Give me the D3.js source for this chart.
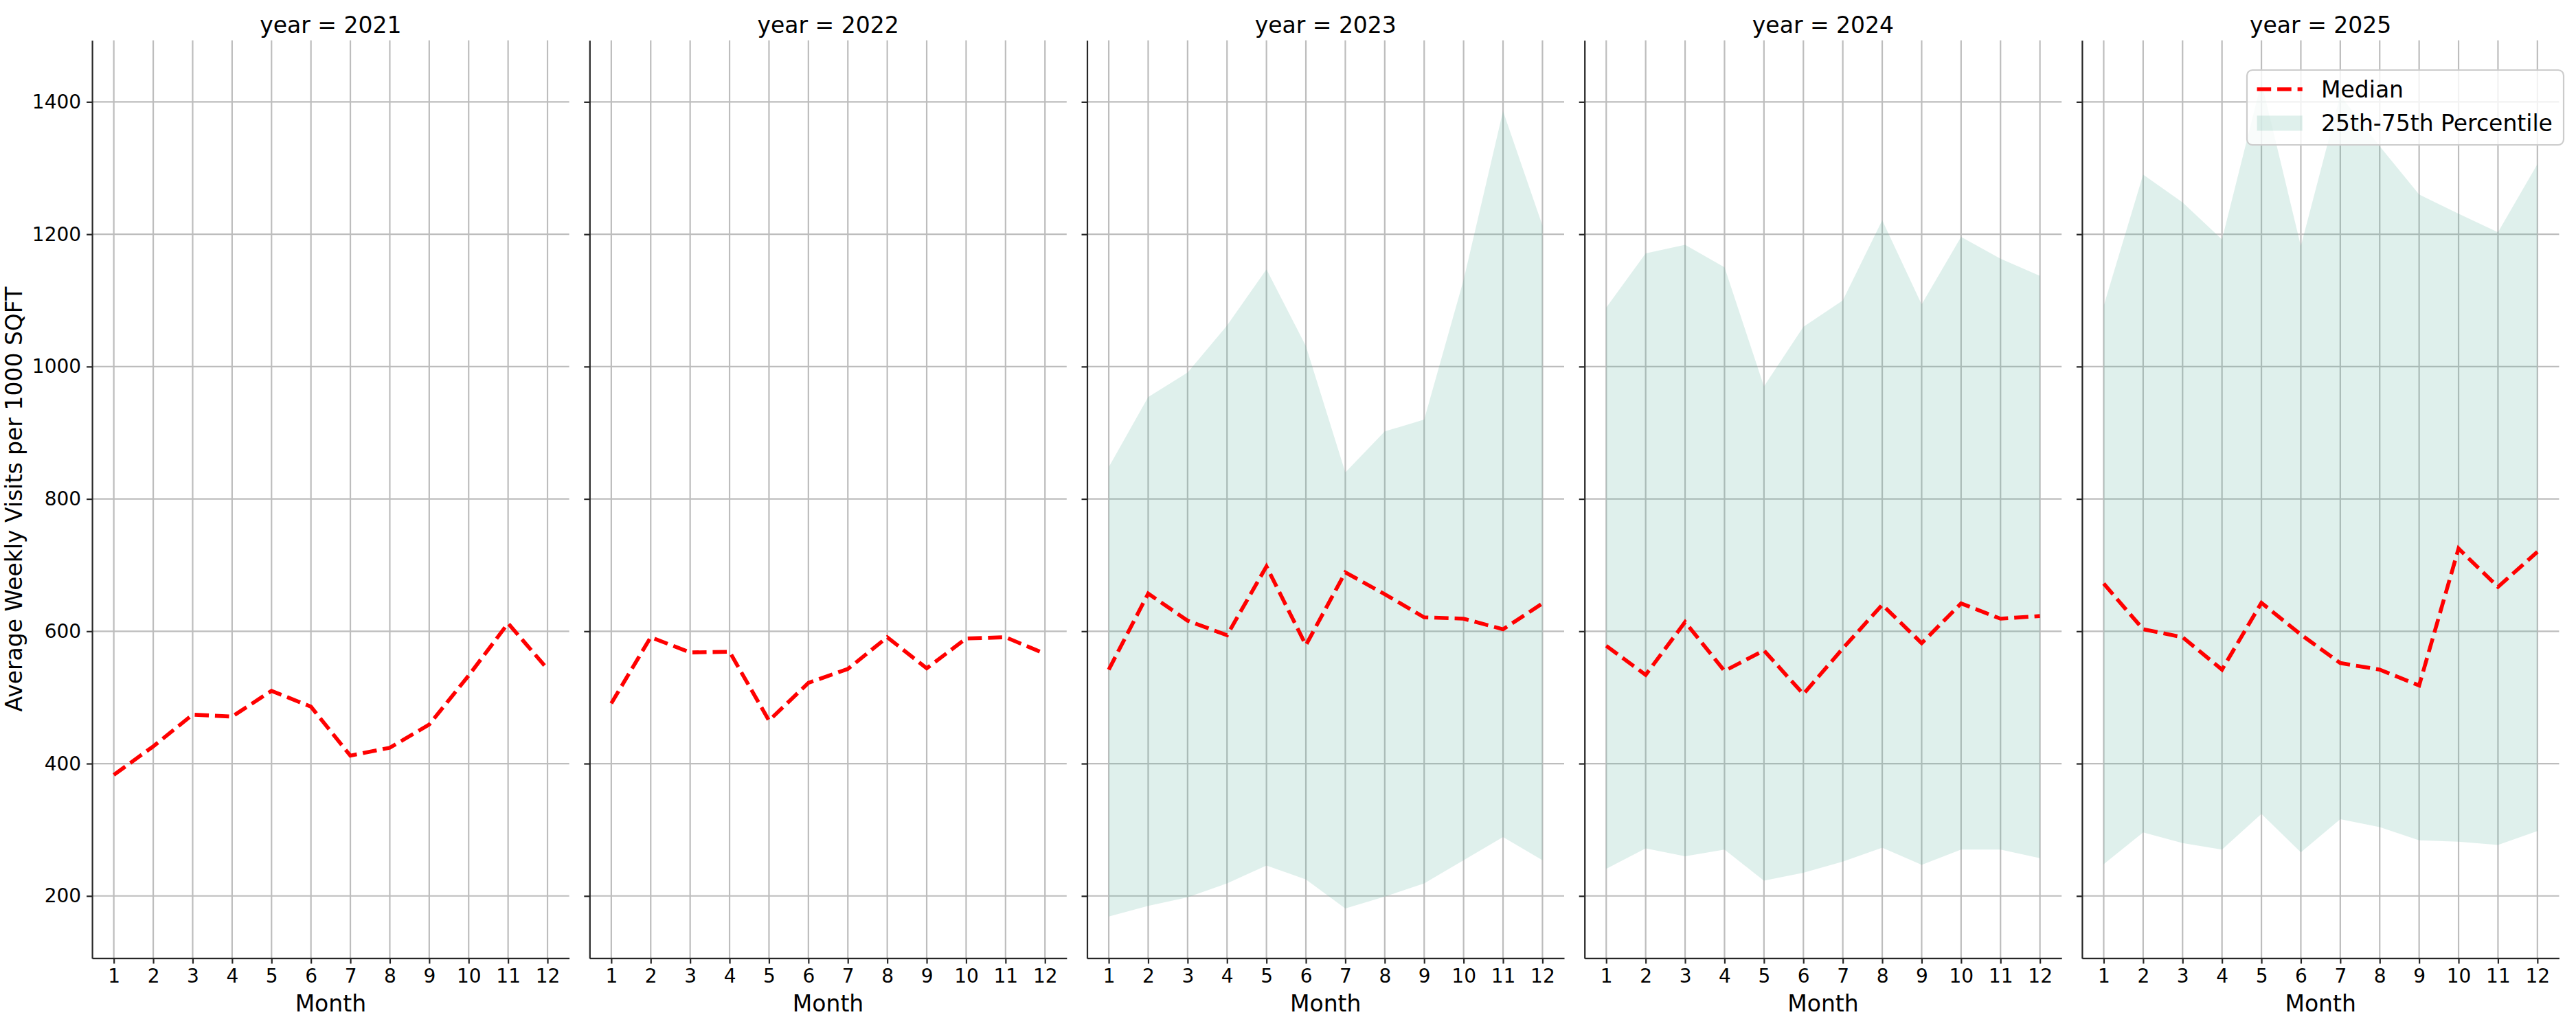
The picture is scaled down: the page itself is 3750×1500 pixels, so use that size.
<!DOCTYPE html>
<html>
<head>
<meta charset="utf-8">
<script src="https://cdn.jsdelivr.net/npm/d3@7"></script>
<style>
    body { margin: 0; background: #fff; }
    svg text { font-family: 'DejaVu Sans', sans-serif; fill: #000; }
</style>
</head>
<body>
<div id="chart"></div>
<script>
const years = [2021, 2022, 2023, 2024, 2025];
const months = [1, 2, 3, 4, 5, 6, 7, 8, 9, 10, 11, 12];
const yTicks = [200, 400, 600, 800, 1000, 1200, 1400];

// median per month
const median2021 = [383, 426, 474, 471, 510, 486, 412, 424, 459, 533, 612, 543];
const median2022 = [491, 591, 568, 569, 465, 522, 543, 591, 544, 589, 591, 566];
const median2023 = [542, 657, 616, 594, 698, 579, 689, 656, 621, 619, 603, 642];
const median2024 = [578, 534, 614, 540, 571, 505, 574, 640, 582, 642, 619, 623];
const median2025 = [672, 603, 591, 542, 643, 595, 552, 542, 518, 725, 667, 720];

// 25th / 75th percentile (no band for 2021 and 2022)
const lower2023 = [169, 185, 198, 219, 246, 225, 181, 199, 219, 254, 289, 254];
const upper2023 = [848, 954, 991, 1062, 1147, 1031, 840, 902, 920, 1131, 1386, 1213];
const lower2024 = [241, 272, 260, 270, 223, 235, 252, 273, 247, 270, 270, 257];
const upper2024 = [1089, 1171, 1184, 1150, 970, 1060, 1100, 1221, 1094, 1196, 1163, 1137];
const lower2025 = [248, 296, 280, 270, 324, 266, 316, 304, 284, 282, 277, 298];
const upper2025 = [1092, 1290, 1248, 1192, 1430, 1182, 1410, 1333, 1260, 1231, 1203, 1306];

const medians = [median2021, median2022, median2023, median2024, median2025];
const lowers = [null, null, lower2023, lower2024, lower2025];
const uppers = [null, null, upper2023, upper2024, upper2025];

document.addEventListener('DOMContentLoaded', () => {
    const W = 3750, H = 1500;
    const top = 58.7, bottom = 1395.4;
    const panelLeft = 134.1, panelW = 694.5, panelStep = 724.2;
    const bandColor = 'rgb(95,180,160)';
    const gridColor = '#bdbdbd';
    const spineColor = '#262626';
    const dash = '20.6,8.9';

    const svg = d3.select('#chart').append('svg')
        .attr('width', W)
        .attr('height', H);

    // shared y scale, padded 5% like matplotlib autoscale
    const allVals = [].concat(...medians, ...lowers.filter(d => d), ...uppers.filter(d => d));
    const vMin = d3.min(allVals), vMax = d3.max(allVals);
    const pad = (vMax - vMin) * 0.05;
    const y = d3.scaleLinear().domain([vMin - pad, vMax + pad]).range([bottom, top]);

    years.forEach((year, i) => {
        const x = d3.scaleLinear().domain([0.45, 12.55]).range([0, panelW]);
        const g = svg.append('g').attr('transform', `translate(${panelLeft + i * panelStep},0)`);

        // grid
        g.append('g').selectAll('line.h')
            .data(yTicks)
            .enter().append('line')
            .attr('x1', 0).attr('x2', panelW)
            .attr('y1', d => y(d)).attr('y2', d => y(d))
            .attr('stroke', gridColor).attr('stroke-width', 2.2);
        g.append('g').selectAll('line.v')
            .data(months)
            .enter().append('line')
            .attr('x1', d => x(d)).attr('x2', d => x(d))
            .attr('y1', top).attr('y2', bottom)
            .attr('stroke', gridColor).attr('stroke-width', 2.2);

        // percentile band
        if (lowers[i]) {
            const area = d3.area()
                .x((d, j) => x(months[j]))
                .y0((d, j) => y(lowers[i][j]))
                .y1((d, j) => y(uppers[i][j]));
            g.append('path')
                .datum(lowers[i])
                .attr('d', area)
                .attr('fill', bandColor)
                .attr('fill-opacity', 0.2);
        }

        // median line
        const line = d3.line()
            .x((d, j) => x(months[j]))
            .y(d => y(d));
        g.append('path')
            .datum(medians[i])
            .attr('d', line)
            .attr('fill', 'none')
            .attr('stroke', 'red')
            .attr('stroke-width', 5.6)
            .attr('stroke-dasharray', dash);

        // axes
        const xAxis = g.append('g')
            .attr('transform', `translate(0,${bottom})`)
            .call(d3.axisBottom(x).tickValues(months).tickFormat(d3.format('d'))
                .tickSize(8).tickSizeOuter(0).tickPadding(8));
        const yAxis = g.append('g')
            .call(d3.axisLeft(y).tickValues(yTicks)
                .tickFormat(i === 0 ? d3.format('d') : () => '')
                .tickSize(8).tickSizeOuter(0).tickPadding(8));
        [xAxis, yAxis].forEach(ax => {
            ax.attr('font-size', null).attr('font-family', null);
            ax.selectAll('.domain').attr('stroke', spineColor).attr('stroke-width', 2.2);
            ax.selectAll('.tick line').attr('stroke', spineColor).attr('stroke-width', 2.2);
            ax.selectAll('.tick text').style('font-size', '28px').attr('fill', '#000');
        });

        // titles
        g.append('text')
            .attr('x', panelW / 2).attr('y', 47.5)
            .attr('text-anchor', 'middle')
            .style('font-size', '33px')
            .text(`year = ${year}`);
        g.append('text')
            .attr('x', panelW / 2).attr('y', 1473)
            .attr('text-anchor', 'middle')
            .style('font-size', '33px')
            .text('Month');
    });

    svg.append('text')
        .attr('transform', `translate(32,${(top + bottom) / 2}) rotate(-90)`)
        .attr('text-anchor', 'middle')
        .style('font-size', '33px')
        .text('Average Weekly Visits per 1000 SQFT');

    // legend
    const lg = svg.append('g').attr('transform', 'translate(3271,102)');
    lg.append('rect')
        .attr('width', 461).attr('height', 109)
        .attr('rx', 8).attr('ry', 8)
        .attr('fill', '#fff').attr('fill-opacity', 0.8)
        .attr('stroke', '#cccccc').attr('stroke-width', 2.2);
    lg.append('line')
        .attr('x1', 14.6).attr('x2', 80.7)
        .attr('y1', 28).attr('y2', 28)
        .attr('stroke', 'red').attr('stroke-width', 5.6)
        .attr('stroke-dasharray', dash);
    lg.append('rect')
        .attr('x', 14.6).attr('y', 66.4)
        .attr('width', 66.1).attr('height', 22)
        .attr('fill', bandColor).attr('fill-opacity', 0.2);
    lg.append('text')
        .attr('x', 108).attr('y', 40)
        .style('font-size', '33px')
        .text('Median');
    lg.append('text')
        .attr('x', 108).attr('y', 88.5)
        .style('font-size', '33px')
        .text('25th-75th Percentile');
});
</script>
</body>
</html>
